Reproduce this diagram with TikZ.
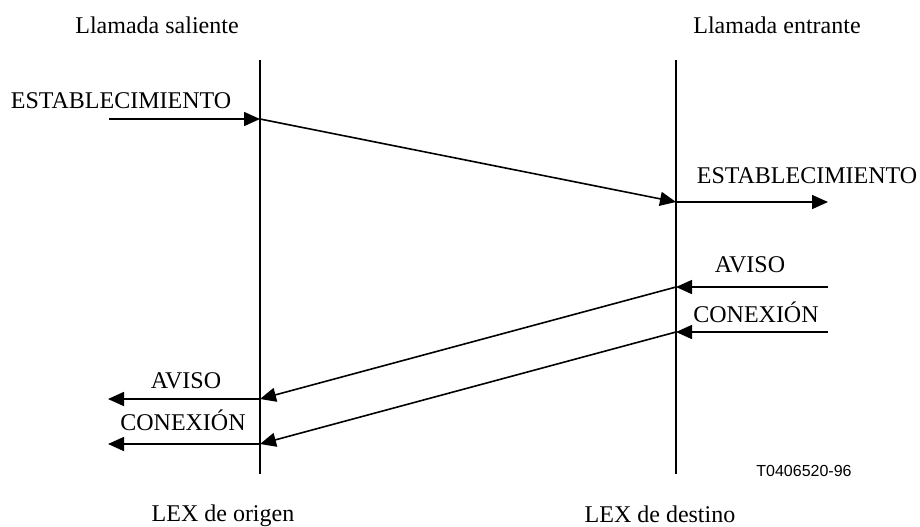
\documentclass[tikz,border=0pt]{standalone}
\usepackage{fontspec}
\setmainfont{Liberation Serif}
\setsansfont{Liberation Sans}
\usetikzlibrary{arrows.meta,positioning}

\begin{document}
\begin{tikzpicture}[x=0.5pt, y=-0.5pt, >={Triangle[length=8pt,width=7pt]},
    every node/.style={font=\fontsize{12}{14}\selectfont, inner sep=0pt},
    lex/.style={line width=1.3pt},
    msg/.style={->, line width=0.8pt}]
    \useasboundingbox (0,0) rectangle (920,526);

    % exchanges
    \coordinate (o top) at (260,60);
    \coordinate (o bot) at (260,474);
    \coordinate (d top) at (676,60);
    \coordinate (d bot) at (676,474);
    \draw[lex] (o top) -- (o bot);
    \draw[lex] (d top) -- (d bot);

    \node[anchor=base] (out) at (157,33) {Llamada saliente};
    \node[anchor=base] (in) at (777,33) {Llamada entrante};
    \node[anchor=base] (orig) at (223,521) {LEX de origen};
    \node[anchor=base] (dest) at (660,522) {LEX de destino};
    \node[anchor=base, font=\sffamily\fontsize{8}{10}\selectfont] (ref) at (804,476) {T0406520-96};

    % establecimiento
    \coordinate (e0) at (109,119);
    \coordinate (e1) at (260,119);
    \coordinate (e2) at (676,202);
    \coordinate (e3) at (828,202);
    \draw[msg] (e0) -- (e1);
    \draw[msg] (e1) -- (e2);
    \draw[msg] (e2) -- (e3);
    \node[anchor=base] (est1) at (121,108) {ESTABLECIMIENTO};
    \node[anchor=base] (est2) at (807,183) {ESTABLECIMIENTO};

    % aviso
    \coordinate (a0) at (828,287);
    \coordinate (a1) at (676,287);
    \coordinate (a2) at (260,399);
    \coordinate (a3) at (108,399);
    \draw[msg] (a0) -- (a1);
    \draw[msg] (a1) -- (a2);
    \draw[msg] (a2) -- (a3);
    \node[anchor=base] (av2) at (750,272) {AVISO};
    \node[anchor=base] (av1) at (186,388) {AVISO};

    % conexion
    \coordinate (c0) at (828,332);
    \coordinate (c1) at (676,332);
    \coordinate (c2) at (260,444);
    \coordinate (c3) at (108,444);
    \draw[msg] (c0) -- (c1);
    \draw[msg] (c1) -- (c2);
    \draw[msg] (c2) -- (c3);
    \node[anchor=base] (cx2) at (756,322) {CONEXIÓN};
    \node[anchor=base] (cx1) at (183,430) {CONEXIÓN};
\end{tikzpicture}
\end{document}
